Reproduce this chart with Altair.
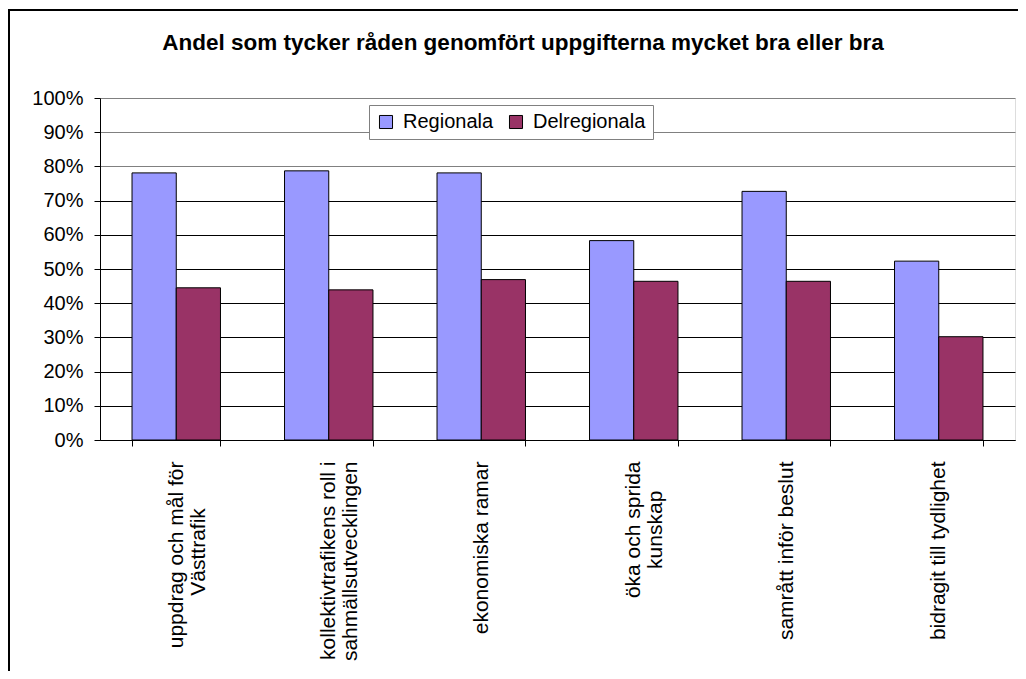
import altair as alt
import pandas as pd

title_text = "Andel som tycker råden genomfört uppgifterna mycket bra eller bra"
NB = "\u00a0"
ZW = "\u200b"
# lines of each category label (shorter second lines padded with non-breaking spaces to centre them like Excel)
categories = [
    "uppdrag och mål för|Västtrafik" + NB * 8 + ZW,
    "kollektivtrafikens roll i|sahmällsutvecklingen",
    "ekonomiska ramar",
    "öka och sprida|kunskap" + NB * 5 + ZW,
    "samrått inför beslut",
    "bidragit till tydlighet",
]
series_names = ["Regionala", "Delregionala"]
regionala = [0.781, 0.787, 0.781, 0.583, 0.727, 0.523]
delregionala = [0.445, 0.439, 0.469, 0.464, 0.464, 0.302]
series_colors = ["#9999FF", "#993366"]
y_ticks = [0.0, 0.1, 0.2, 0.3, 0.4, 0.5, 0.6, 0.7, 0.8, 0.9, 1.0]

rows = []
for c, r, d in zip(categories, regionala, delregionala):
    rows.append({"kategori": c, "serie": series_names[0], "andel": r})
    rows.append({"kategori": c, "serie": series_names[1], "andel": d})
df = pd.DataFrame(rows)

W, H = 915, 342
FONT = "Liberation Sans"

bars = alt.Chart(df).mark_bar(stroke="black", strokeWidth=1).encode(
    x=alt.X(
        "kategori:N",
        sort=categories,
        title=None,
        scale=alt.Scale(paddingInner=0.42, paddingOuter=0.21),
        axis=alt.Axis(
            labelAngle=270,
            labelExpr="split(datum.label, '|')",
            labelFontSize=21,
            labelFont=FONT,
            labelColor="black",
            labelLineHeight=22,
            labelPadding=15,
            tickBand="extent",
            tickSize=6,
            tickColor="black",
            domainColor="black",
            labelLimit=400,
        ),
    ),
    xOffset=alt.XOffset("serie:N", sort=series_names, scale=alt.Scale(paddingInner=0, paddingOuter=0)),
    y=alt.Y(
        "andel:Q",
        title=None,
        scale=alt.Scale(domain=[0, 1], nice=False),
        axis=alt.Axis(
            values=y_ticks,
            format=".0%",
            labelFontSize=20,
            labelFont=FONT,
            labelColor="black",
            labelPadding=11,
            tickSize=6,
            tickColor="black",
            domainColor="black",
            grid=True,
            gridColor=alt.condition("datum.value >= 0.75", alt.value("#808080"), alt.value("#000000")),
            gridOpacity=1,
        ),
    ),
    color=alt.Color(
        "serie:N",
        sort=series_names,
        scale=alt.Scale(domain=series_names, range=series_colors),
        legend=alt.Legend(
            title=None,
            orient="none",
            legendX=269,
            legendY=7,
            direction="horizontal",
            symbolType="square",
            symbolSize=170,
            symbolStrokeColor="black",
            symbolStrokeWidth=1,
            labelFontSize=20,
            labelFont=FONT,
            labelColor="black",
            labelOffset=7,
            columnPadding=12,
            padding=7,
            strokeColor="#808080",
            fillColor="white",
        ),
    ),
)

frame_df = pd.DataFrame({"k": [0]})
frame_left = alt.Chart(frame_df).mark_rule(color="black", strokeWidth=2).encode(
    x=alt.value(-91), y=alt.value(-88), y2=alt.value(H + 240)
)
frame_top = alt.Chart(frame_df).mark_rule(color="black", strokeWidth=2).encode(
    x=alt.value(-92), x2=alt.value(W + 10), y=alt.value(-88)
)
title = alt.Chart(pd.DataFrame({"t": [title_text]})).mark_text(
    font=FONT, fontSize=22.5, fontWeight="bold", color="black", align="center", baseline="alphabetic"
).encode(text="t:N", x=alt.value(423), y=alt.value(-48))

chart = (
    alt.layer(frame_left, frame_top, title, bars)
    .properties(
        width=W,
        height=H,
        autosize=alt.AutoSizeParams(type="none"),
        padding={"left": 92, "top": 90, "right": 3, "bottom": 231},
    )
    .configure_view(stroke="#808080", strokeWidth=1)
    .configure(background="white")
)

chart.save("out.html", embed_options={"renderer": "svg", "actions": False})
